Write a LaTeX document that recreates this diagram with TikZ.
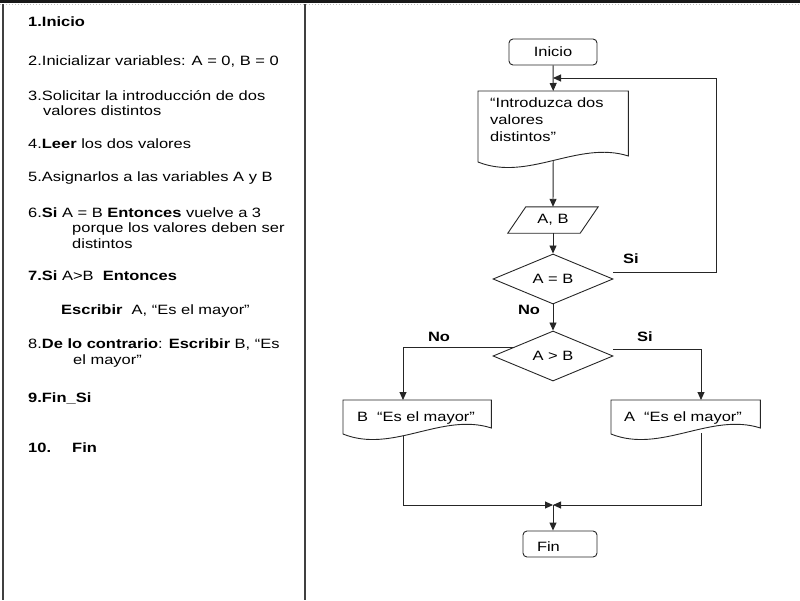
\documentclass[tikz,border=0pt]{standalone}
\usepackage{fontspec}
\setmainfont{Liberation Sans}[FakeStretch=1.22]
\usetikzlibrary{shapes.geometric,arrows.meta,calc}
\newcommand\docpath[2]{%
  \draw[ln] (#1.north west) -- (#1.north east) -- ($(#1.north east)+(0,#2-6)$)
    .. controls ($(#1.north west)!0.667!(#1.north east)+(0,#2-22)$)
    and ($(#1.north west)!0.333!(#1.north east)+(0,#2+20)$)
    .. ($(#1.north west)+(0,#2)$) -- cycle;}
\begin{document}
\begin{tikzpicture}[x=1pt,y=-1pt,font=\fontsize{13.5}{16}\selectfont,
  ln/.style={line width=0.9pt, draw=black!85},
  arr/.style={ln, -{Triangle[length=8pt,width=7pt]}},
  txt/.style={anchor=base west, inner sep=0pt},
  term/.style={ln, draw, rounded corners=4pt, minimum width=88pt, minimum height=26pt},
  dec/.style={ln, diamond, draw, minimum width=120pt, minimum height=38pt, inner sep=0pt},
  lbl/.style={font=\fontsize{13.5}{16}\selectfont\bfseries, inner sep=0pt},
  docbox/.style={anchor=north west, inner xsep=12pt, inner ysep=7pt, align=left}]
\useasboundingbox (0,0) rectangle (800,600);
% frame
\fill[black!90] (0,0) rectangle (800,2.5);
\draw[black!25, dotted, line width=1pt] (0,4.5) -- (800,4.5);
\draw[black!75, line width=1.3pt] (3,4) -- (3,600);
\draw[black!75, line width=1.3pt] (305,4) -- (305,600);
% left text
\node[txt] (t1) at (28,26) {\textbf{1.Inicio}};
\node[txt] (t2) at (28,65) {2.Inicializar variables: A = 0, B = 0};
\node[txt] (t3) at (28,100) {3.Solicitar la introducción de dos};
\node[txt] (t3b) at (43,115) {valores distintos};
\node[txt] (t4) at (28,148) {4.\textbf{Leer} los dos valores};
\node[txt] (t5) at (28,181) {5.Asignarlos a las variables A y B};
\node[txt] (t6) at (28,217) {6.\textbf{Si} A = B \textbf{Entonces} vuelve a 3};
\node[txt] (t6b) at (72,232) {porque los valores deben ser};
\node[txt] (t6c) at (72,248) {distintos};
\node[txt] (t7) at (28,280) {\textbf{7.Si} A>B\ \ \textbf{Entonces}};
\node[txt] (t7b) at (61,314) {\textbf{Escribir}\ \ A, “Es el mayor”};
\node[txt] (t8) at (28,348) {8.\textbf{De lo contrario}: \textbf{Escribir} B, “Es};
\node[txt] (t8b) at (73,364) {el mayor”};
\node[txt] (t9) at (28,402) {\textbf{9.Fin\_Si}};
\node[txt] (t10) at (28,452) {\textbf{10.}};
\node[txt] (t10b) at (72,452) {\textbf{Fin}};
% flowchart
\node[term] (ini) at (553,52) {Inicio};
\node[docbox, text width=126pt] (doc1) at (478,91) {“Introduzca dos\\[1pt]valores\\[1pt]distintos”};
\docpath{doc1}{71}
\node[minimum width=72pt, minimum height=26pt, inner sep=0pt] (io) at (553,220) {A, B};
\draw[ln] ($(io.north west)+(9,0)$) -- ($(io.north east)+(9,0)$) -- ($(io.south east)+(-9,0)$) -- ($(io.south west)+(-9,0)$) -- cycle;
\node[dec] (d1) at (553,279) {A = B};
\node[dec] (d2) at (553,356) {A > B};
\node[docbox, inner xsep=14pt, inner ysep=12pt, text width=120pt] (bb) at (343,400) {B\ \ “Es el mayor”};
\docpath{bb}{34}
\node[docbox, inner xsep=13pt, inner ysep=12pt, text width=123pt] (ab) at (611,400) {A\ \ “Es el mayor”};
\docpath{ab}{34}
\node[term, minimum width=74pt, inner xsep=14pt, text width=46pt, align=left, text height=14pt, text depth=0pt] (fin) at (560,544) {Fin};
% labels
\node[lbl] (si1) at (631,259) {Si};
\node[lbl] (no1) at (529,310) {No};
\node[lbl] (no2) at (439,337) {No};
\node[lbl] (si2) at (645,337) {Si};
% connectors
\coordinate (j1) at (553,78);
\coordinate (lc) at (716,78);
\coordinate (j2) at (553,505);
\draw[arr] (ini) -- (doc1.north);
\draw[arr] ($(d1.east)+(0,-7)$) -| (lc) -- (j1);
\draw[arr] ($(doc1.north)+(0,70)$) -- (io.north);
\draw[arr] (io.south) -- (d1.north);
\draw[arr] (d1.south) -- (d2.north);
\coordinate (bl) at ($(d2.west)!0.35!(d2.north)$);
\draw[arr] (bl) -| ($(bb.north west)+(60,0)$);
\draw[arr] ($(d2.east)+(0,-7)$) -| ($(ab.north west)+(90,0)$);
\draw[arr] ($(bb.north west)+(60,36)$) |- (j2);
\draw[arr] ($(ab.north west)+(90,33)$) |- (j2);
\draw[arr] (j2) -- (j2 |- fin.north);
\end{tikzpicture}
\end{document}
